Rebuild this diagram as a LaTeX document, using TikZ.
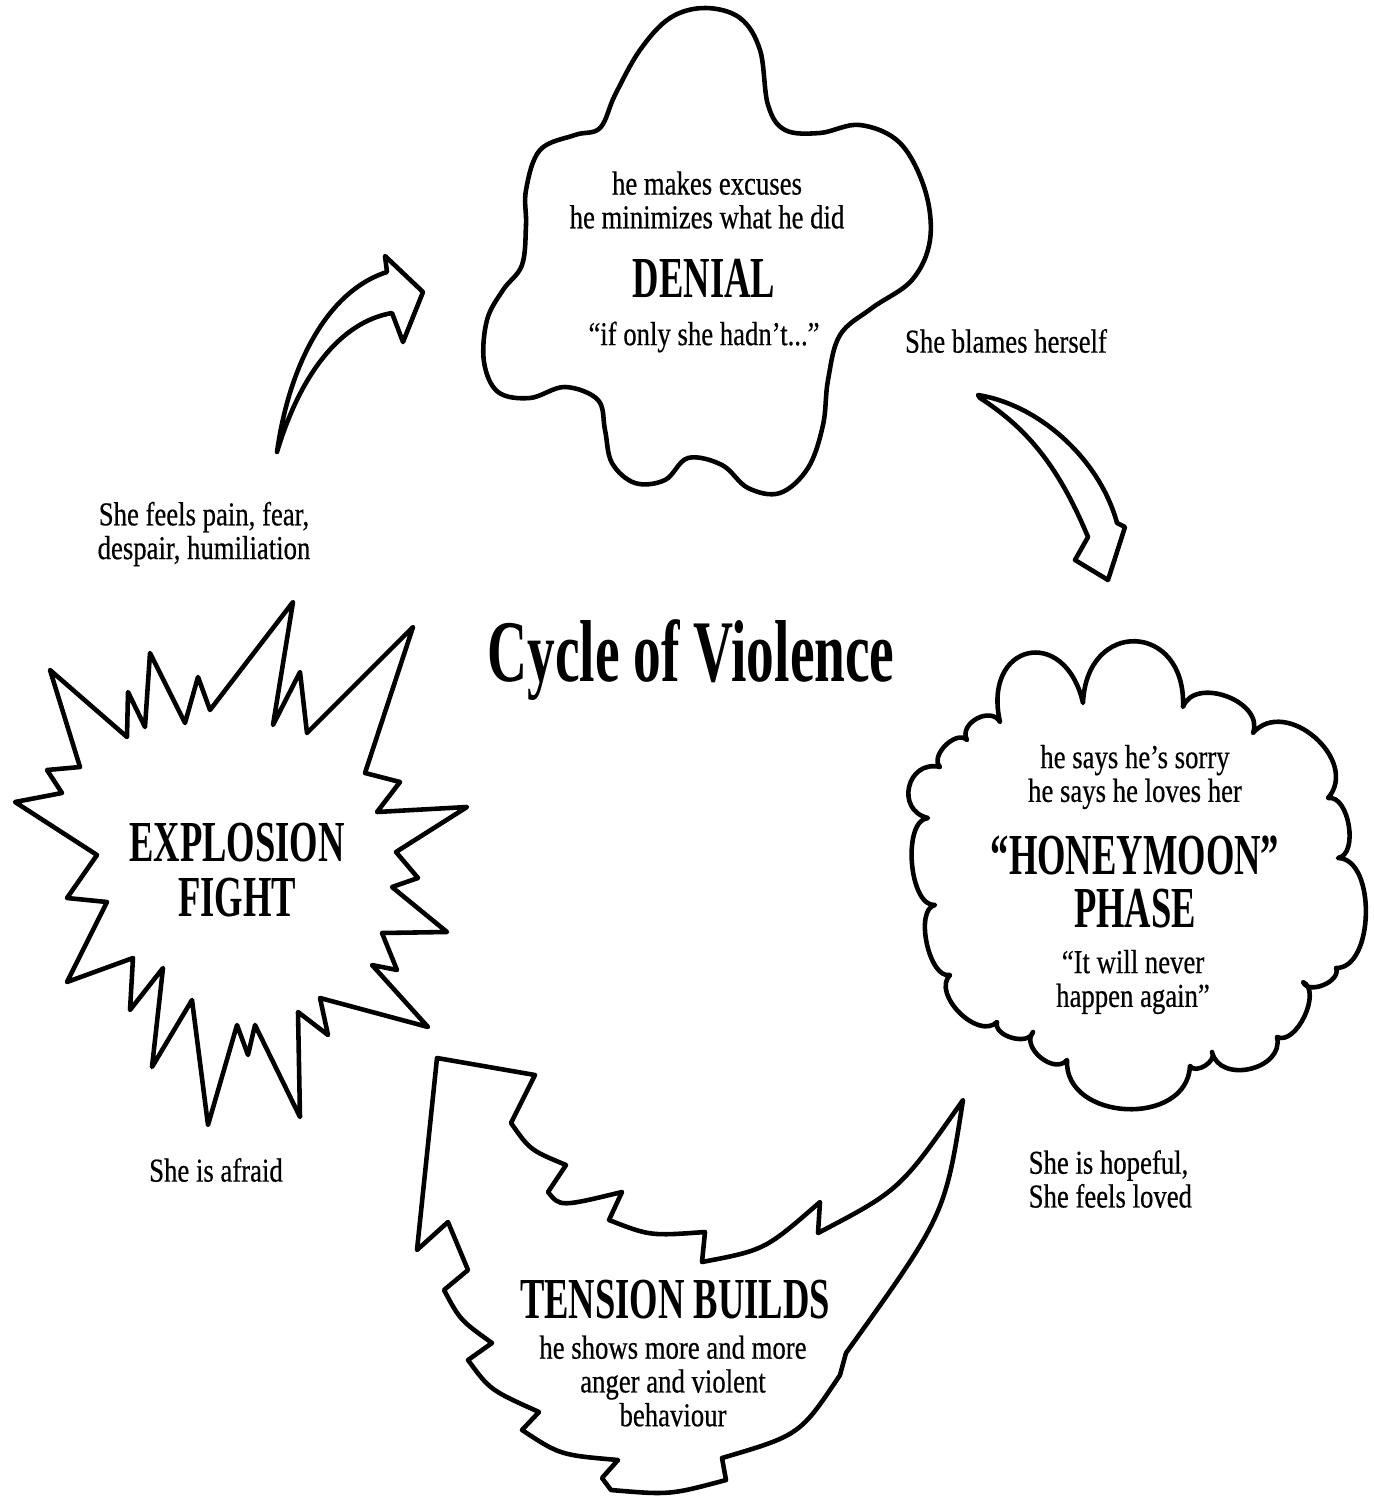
\documentclass[tikz,border=0pt]{standalone}
\usepackage{fontspec}
\setmainfont{Liberation Serif}[FakeStretch=0.8, FakeBold=0.5]
\newfontfamily\headfont{Liberation Serif}[FakeStretch=0.63]
\usetikzlibrary{calc}

\tikzstyle{outline} = [line width=1.3pt, line join=round, line cap=round]
\tikzstyle{note} = [align=center, inner sep=0pt, font=\fontsize{9.5}{9.6}\selectfont]
\tikzstyle{phase} = [align=center, inner sep=0pt, font=\headfont\bfseries\fontsize{16.5}{14}\selectfont]
\tikzstyle{title} = [inner sep=0pt, font=\headfont\bfseries\fontsize{25}{25}\selectfont]

\begin{document}
\begin{tikzpicture}[x=0.01cm, y=-0.01cm]
	\useasboundingbox (0,0) rectangle (1374,1500);
	
	%denial cloud
	\draw[outline] plot[smooth cycle, tension=0.6] coordinates {
		(526,190) (540,150) (575,135) (600,128) (615,95) (640,50) (670,18) (705,8)
		(740,18) (760,50) (768,105) (785,130) (820,133) (860,125) (900,143) (925,190)
		(930,240) (912,280) (872,308) (840,335) (828,380) (823,425) (808,468) (780,493)
		(748,488) (722,465) (688,458) (665,480) (635,483) (612,463) (605,430) (598,400)
		(565,387) (530,398) (498,392) (484,362) (487,320) (503,290) (522,265) (526,225)};
	\node[note] (denialsub) at (707,200) {he makes excuses\\he minimizes what he did};
	\node[phase] (denial) at (704,278) {DENIAL};
	\node[note] (denialquote) at (704,337) {“if only she hadn’t...”};
	
	%honeymoon cloud
	\foreach \i/\p in {1/{928,818}, 2/{940,767}, 3/{967,740}, 4/{1000,722}, 5/{1083,703},
		6/{1183,707}, 7/{1253,733}, 8/{1328,798}, 9/{1338,858}, 10/{1336,968},
		11/{1303,982}, 12/{1277,1037}, 13/{1212,1052}, 14/{1190,1066}, 15/{1067,1060},
		16/{1033,1032}, 17/{997,1022}, 18/{950,975}, 19/{935,905}}
		\coordinate (h\i) at (\p);
	\draw[outline] (h1) foreach \i/\j/\k in {1/2/0.65, 2/3/0.4, 3/4/0.5, 4/5/0.95, 5/6/0.85,
		6/7/0.45, 7/8/0.5, 8/9/0.35, 9/10/0.35, 10/11/0.4, 11/12/0.35, 12/13/0.5,
		13/14/0.4, 14/15/0.5, 15/16/0.45, 16/17/0.4, 17/18/0.4, 18/19/0.3, 19/1/0.3}
		{ .. controls ($(h\i)!\k!90:(h\j)$) and ($(h\j)!\k!-90:(h\i)$) .. (h\j)} -- cycle;
	\node[note] (honeysub) at (1135,777) {he says he’s sorry\\he says he loves her};
	\node[phase] (honey) at (1135,855) {“HONEYMOON”};
	\node[phase] (phase) at (1135,909) {PHASE};
	\node[note] (honeyquote) at (1133,982) {“It will never\\happen again”};
	
	%explosion
	\draw[outline] (50,670) -- (127,737) -- (128,692) -- (145,727) -- (150,653) -- (185,723)
		-- (198,677) -- (210,710) -- (293,602) -- (273,725) -- (300,672) -- (307,733)
		-- (413,627) -- (365,773) -- (400,782) -- (377,812) -- (467,807) -- (396,852)
		-- (418,878) -- (392,887) -- (447,932) -- (382,933) -- (397,970) -- (372,965)
		-- (428,1027) -- (320,998) -- (328,1035) -- (298,1012) -- (300,1117) -- (255,1025)
		-- (248,1055) -- (237,1025) -- (208,1125) -- (192,1000) -- (152,1067) -- (163,968)
		-- (130,1010) -- (133,958) -- (67,982) -- (107,902) -- (67,898) -- (97,855)
		-- (15,802) -- (62,793) -- (47,770) -- (80,767) -- cycle;
	\node[phase] (explosion) at (237,843) {EXPLOSION};
	\node[phase] (fight) at (237,898) {FIGHT};
	
	%tension builds
	\draw[outline] (437,1058) -- (535,1075) -- (511,1123) .. controls (530,1150) .. (566,1165)
		-- (548,1192) .. controls (560,1207) .. (622,1192) -- (609,1220)
		.. controls (650,1236) .. (705,1232) -- (702,1262) .. controls (765,1250) .. (820,1202)
		-- (818,1233) .. controls (900,1190) .. (963,1100) .. controls (945,1215) .. (846,1353)
		-- (840,1375) .. controls (800,1435) .. (722,1458) -- (726,1480)
		.. controls (670,1495) .. (611,1490) -- (602,1478) -- (618,1460)
		.. controls (560,1455) .. (522,1430) -- (539,1412) .. controls (490,1390) .. (468,1360)
		-- (492,1343) .. controls (460,1320) .. (444,1290) -- (468,1270) -- (448,1222)
		-- (417,1250) -- cycle;
	\node[phase] (tension) at (675,1300) {TENSION BUILDS};
	\node[note] (tensionsub) at (673,1381) {he shows more and more\\anger and violent\\behaviour};
	
	%arrows
	\draw[outline] (277,452) .. controls (290,360) and (330,290) .. (387,272) -- (385,256)
		-- (423,292) -- (403,342) -- (392,313) .. controls (340,322) and (300,375) .. (277,452) -- cycle;
	\draw[outline] (978,395) .. controls (1040,405) and (1100,460) .. (1117,523) -- (1125,527)
		-- (1108,580) -- (1075,560) -- (1088,537) .. controls (1060,470) and (1030,430) .. (980,398) -- cycle;
	
	\node[title] (cycle) at (691,660) {Cycle of Violence};
	\node[note] (blames) at (1006,341) {She blames herself};
	\node[note] (pain) at (204,534) {She feels pain, fear,\\despair, humiliation};
	\node[note] (afraid) at (216,1170) {She is afraid};
	\node[note, align=left, anchor=west] (hopeful) at (1028,1179) {She is hopeful,\\She feels loved};
\end{tikzpicture}
\end{document}
